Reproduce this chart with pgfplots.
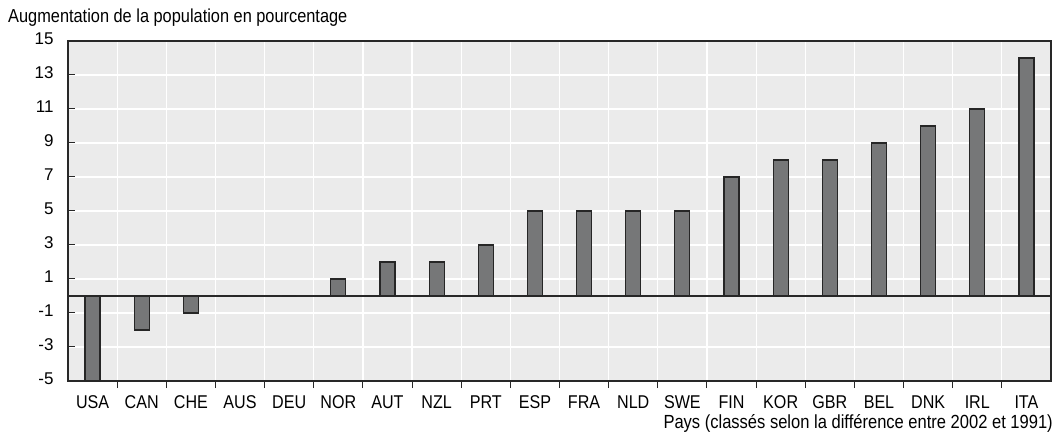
\documentclass[border=0pt]{standalone}
\usepackage{pgfplots}
\pgfplotsset{compat=1.18}
\usepackage{fontspec}
\setmainfont{Liberation Sans}[FakeStretch=0.87]
\newfontfamily\yfont{Liberation Sans}
\definecolor{bgc}{RGB}{235,235,235}
\definecolor{barc}{RGB}{118,119,120}
\definecolor{axc}{RGB}{40,40,40}
\begin{document}
\begin{tikzpicture}
\begin{axis}[
  at={(0,0)}, anchor=south west,
  scale only axis,
  width=983bp, height=340bp,
  xmin=-0.5, xmax=19.5,
  ymin=-5, ymax=15,
  ytick={-5,-3,...,15},
  xtick={0,...,19},
  xticklabels={USA,CAN,CHE,AUS,DEU,NOR,AUT,NZL,PRT,ESP,FRA,NLD,SWE,FIN,KOR,GBR,BEL,DNK,IRL,ITA},
  minor xtick={0.5,1.5,...,18.5},
  major x tick style={draw=none},
  minor x tick style={axc, line width=1bp},
  minor tick length=7bp,
  major tick length=7bp,
  tick align=inside,
  tick pos=left,
  ymajorgrids, xminorgrids,
  grid style={white, line width=1.2bp},
  major y tick style={axc, line width=1bp},
  axis background/.style={fill=bgc},
  axis line style={axc, line width=1.6bp},
  /pgf/number format/assume math mode=true,
  yticklabel style={font=\yfont\fontsize{17bp}{18bp}\selectfont, xshift=-11bp},
  xticklabel style={font=\fontsize{18.5bp}{20bp}\selectfont, anchor=base, yshift=-20bp},
  typeset ticklabels with strut,
  extra y ticks={0},
  extra y tick labels={},
  extra y tick style={grid=major, major grid style={axc, line width=1.6bp}, major tick length=0pt},
  ybar, bar width=15bp,
  clip=false,
]
\addplot[fill=barc, draw=black!85, line width=1.2bp] coordinates {
(0,-5) (1,-2) (2,-1) (3,0) (4,0) (5,1) (6,2) (7,2) (8,3) (9,5)
(10,5) (11,5) (12,5) (13,7) (14,8) (15,8) (16,9) (17,10) (18,11) (19,14)
};
\end{axis}
\node[anchor=base west, inner sep=0pt, font=\fontsize{18.8bp}{20bp}\selectfont] at (-60bp,358bp) {Augmentation de la population en pourcentage};
\node[anchor=base east, inner sep=0pt, font=\fontsize{19bp}{20bp}\selectfont] at (985bp,-47bp) {Pays (classés selon la différence entre 2002 et 1991)};
\path[use as bounding box] (-68bp,-53bp) rectangle (993bp,381bp);
\end{tikzpicture}
\end{document}
